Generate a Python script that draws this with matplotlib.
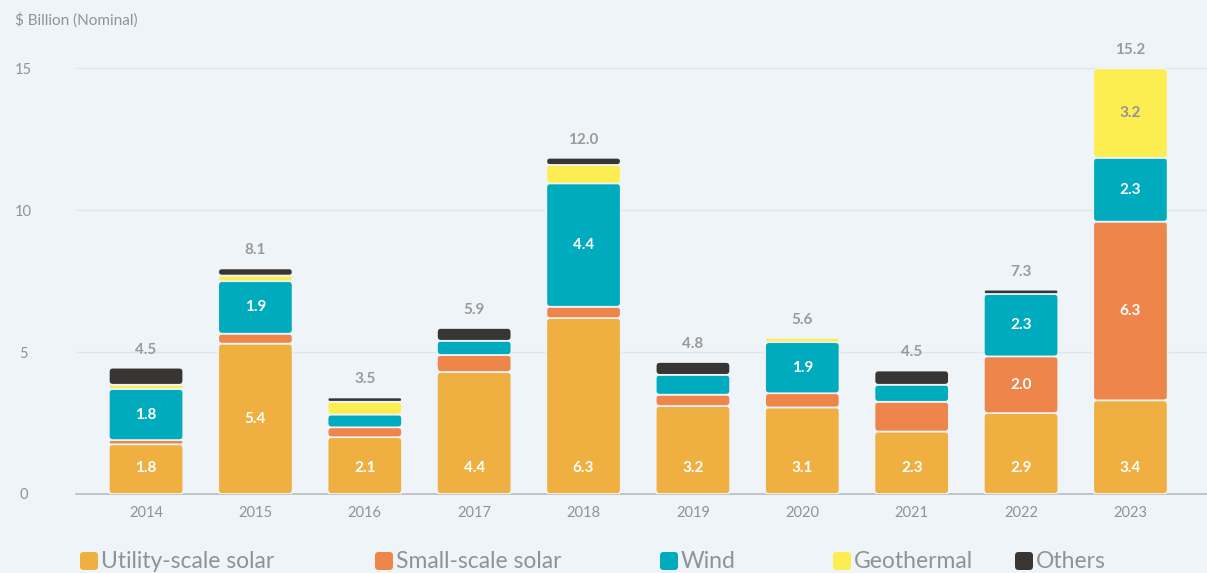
import numpy as np
import matplotlib
matplotlib.use("Agg")
import matplotlib.pyplot as plt
from matplotlib.patches import FancyBboxPatch

years = ["2014", "2015", "2016", "2017", "2018", "2019", "2020", "2021", "2022", "2023"]
utility = [1.75, 5.3, 2.0, 4.3, 6.2, 3.1, 3.05, 2.2, 2.85, 3.3]
small = [0.15, 0.35, 0.35, 0.6, 0.4, 0.4, 0.5, 1.05, 2.0, 6.3]
wind = [1.8, 1.85, 0.45, 0.5, 4.35, 0.7, 1.8, 0.6, 2.2, 2.25]
geo = [0.15, 0.2, 0.45, 0.0, 0.65, 0.0, 0.15, 0.0, 0.0, 3.15]
others = [0.6, 0.25, 0.15, 0.45, 0.25, 0.45, 0.0, 0.5, 0.15, 0.0]
totals = [4.5, 8.1, 3.5, 5.9, 12.0, 4.8, 5.6, 4.5, 7.3, 15.2]
# printed segment values (only the larger segments carry a label)
lab_util = [1.8, 5.4, 2.1, 4.4, 6.3, 3.2, 3.1, 2.3, 2.9, 3.4]
lab_small = [None, None, None, None, None, None, None, None, 2.0, 6.3]
lab_wind = [1.8, 1.9, None, None, 4.4, None, 1.9, None, 2.3, 2.3]
lab_geo = [None, None, None, None, None, None, None, None, None, 3.2]
lab_none = [None] * 10

series = [
    ("Utility-scale solar", utility, lab_util, "#f0b041"),
    ("Small-scale solar", small, lab_small, "#ee854a"),
    ("Wind", wind, lab_wind, "#00abbd"),
    ("Geothermal", geo, lab_geo, "#fcee50"),
    ("Others", others, lab_none, "#383634"),
]

bg = "#eff4f8"
grey = "#8f9396"
plt.rcParams["font.family"] = ["Lato", "DejaVu Sans"]

fig = plt.figure(figsize=(12.07, 5.73), dpi=100, facecolor=bg)
ax = fig.add_axes([0.063, 0.138, 0.937, 0.792], facecolor=bg)

x = np.arange(len(years))
w = 0.68
ax.set_xlim(-0.64, 9.70)
ax.set_ylim(0, 16)

# box aspect for rounded corners (data-y per data-x for equal pixels)
px_x = 1131 / 10.34
px_y = 454 / 16
aspect = px_x / px_y
rad = 4 / px_x

bottom = np.zeros(len(years))
for name, vals, labs, col in series:
    vals = np.array(vals)
    bars = ax.bar(x, vals, w, bottom=bottom, color=col)
    for i, r in enumerate(bars):
        r.set_visible(False)
        h = vals[i]
        if h <= 0:
            continue
        bx, by = r.get_x(), r.get_y()
        rs = min(rad, h / aspect / 2, w / 2)
        p = FancyBboxPatch((bx, by), w, h,
                           boxstyle="round,pad=0,rounding_size=%f" % rs,
                           mutation_aspect=aspect, facecolor=col,
                           edgecolor=bg, linewidth=1.2, zorder=3)
        ax.add_patch(p)
        if labs[i] is not None:
            if name == "Utility-scale solar" and years[i] != "2015":
                ty = 0.9
            else:
                ty = by + h / 2
            tc = grey if name == "Geothermal" else "white"
            ax.text(x[i], ty, "%.1f" % labs[i], ha="center", va="center",
                    color=tc, fontsize=11, fontweight="bold", zorder=4)
    bottom = bottom + vals

for i, t in enumerate(totals):
    ax.annotate("%.1f" % t, (x[i], bottom[i]), xytext=(0, 8),
                textcoords="offset points", ha="center", va="bottom",
                color="#9a9a9a", fontsize=11, fontweight="bold")

ax.set_yticks([0, 5, 10, 15])
ax.set_yticklabels(["0", "5", "10", "15"])
ax.set_xticks(x)
ax.set_xticklabels(years)
ax.tick_params(axis="y", length=0, pad=38, colors=grey, labelsize=10.5)
ax.tick_params(axis="x", length=0, pad=9, colors=grey, labelsize=10.5)
for lbl in ax.get_yticklabels():
    lbl.set_horizontalalignment("center")
ax.grid(axis="y", color="#e0e5e9", linewidth=1)
ax.set_axisbelow(True)
for s in ["top", "right", "left"]:
    ax.spines[s].set_visible(False)
ax.spines["bottom"].set_color("#b8bcbf")
ax.spines["bottom"].set_linewidth(1.2)

fig.text(15 / 1207, 1 - 20 / 573, "$ Billion (Nominal)", color=grey,
         fontsize=11, va="center", ha="left")

# legend along the bottom edge
leg_x = [80, 375, 660, 833, 1015]
for (name, vals, labs, col), lx in zip(series, leg_x):
    fig.patches.append(FancyBboxPatch((lx / 1207, 3 / 573), 18 / 1207, 18 / 573,
                                      boxstyle="round,pad=0,rounding_size=0.003",
                                      mutation_aspect=1207 / 573,
                                      transform=fig.transFigure, facecolor=col,
                                      edgecolor="none", figure=fig))
    fig.text((lx + 21) / 1207, 1 - 561 / 573, name, color=grey, fontsize=16.5,
             va="center", ha="left")

fig.savefig("out.png", dpi=100, facecolor=bg)
